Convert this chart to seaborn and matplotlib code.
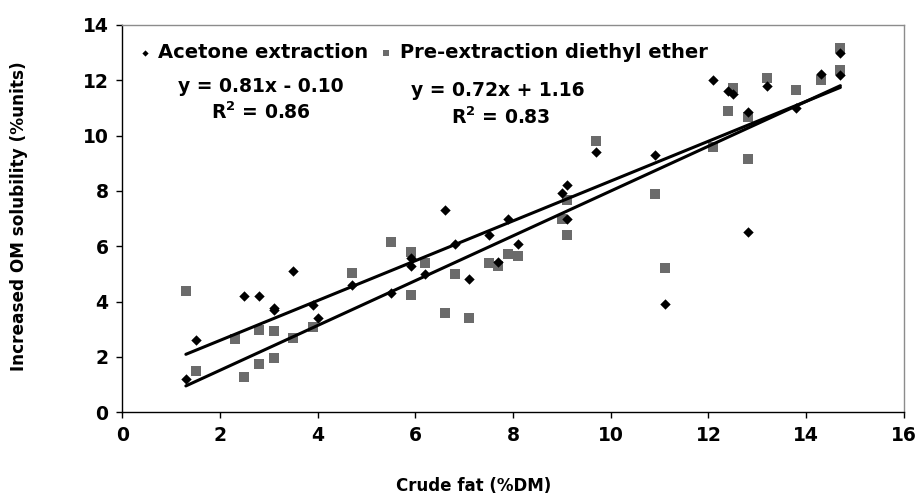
import numpy as np
import pandas as pd
import seaborn as sns
import matplotlib
import matplotlib.pyplot as plt

matplotlib.use('Agg')

# Данные: ацетоновая экстракция (ромбы)
acetone_fat = [1.3, 1.5, 2.5, 2.8, 3.1, 3.1, 3.5, 3.9, 4.0, 4.7, 5.5, 5.9, 5.9,
               6.2, 6.6, 6.8, 7.1, 7.5, 7.7, 7.9, 8.1, 9.0, 9.1, 9.1, 9.7, 10.9,
               11.1, 12.1, 12.4, 12.5, 12.8, 12.8, 13.2, 13.8, 14.3, 14.7, 14.7]
acetone_om = [1.20, 2.61, 4.20, 4.20, 3.78, 3.69, 5.11, 3.89, 3.40, 4.60, 4.31, 5.57, 5.30,
              5.01, 7.30, 6.10, 4.81, 6.40, 5.43, 7.00, 6.10, 7.93, 8.22, 7.00, 9.40, 9.31,
              3.90, 12.01, 11.63, 11.51, 10.85, 6.51, 11.81, 11.00, 12.23, 12.98, 12.19]

# Данные: предварительная экстракция диэтиловым эфиром (квадраты)
ether_fat = [1.3, 1.5, 2.3, 2.5, 2.8, 2.8, 3.1, 3.1, 3.5, 3.9, 4.7, 5.5, 5.9, 5.9,
             6.2, 6.6, 6.8, 7.1, 7.5, 7.7, 7.9, 8.1, 9.0, 9.1, 9.1, 9.7, 10.9, 11.1,
             12.1, 12.4, 12.5, 12.8, 12.8, 13.2, 13.8, 14.3, 14.7, 14.7]
ether_om = [4.40, 1.50, 2.65, 1.29, 2.98, 1.73, 2.94, 1.95, 2.70, 3.07, 5.04, 6.15, 5.81, 4.24,
            5.39, 3.58, 5.01, 3.41, 5.41, 5.29, 5.73, 5.64, 6.99, 7.69, 6.41, 9.80, 7.88, 5.23,
            9.58, 10.88, 11.71, 10.66, 9.15, 12.10, 11.66, 12.00, 13.16, 12.38]

# Линии тренда (коэффициенты из подписей)
trend_x = [1.3, 14.7]
trend1 = (0.81, -0.10)
trend2 = (0.72, 1.16)

sns.set_style('white')
plt.rcParams['font.family'] = ['DejaVu Sans']
plt.rcParams['font.weight'] = 'bold'
plt.rcParams['text.color'] = 'black'
plt.rcParams['xtick.color'] = 'black'
plt.rcParams['ytick.color'] = 'black'
plt.rcParams['axes.labelcolor'] = 'black'

fig = plt.figure(figsize=(9.18, 5.0), dpi=100)
ax = fig.add_axes([0.1333, 0.1754, 0.8513, 0.7746])

sns.scatterplot(x=acetone_fat, y=acetone_om, marker='D', color='black', s=28,
                linewidth=0, label='Acetone extraction', ax=ax, zorder=3)
sns.scatterplot(x=ether_fat, y=ether_om, marker='s', color='#6b6b6b', s=45,
                linewidth=0, label='Pre-extraction diethyl ether', ax=ax, zorder=2)

for slope, icpt in (trend1, trend2):
    tx = np.array(trend_x)
    sns.lineplot(x=tx, y=slope * tx + icpt, color='black', linewidth=2.2, ax=ax, zorder=4)

ax.set_xlim(0, 16)
ax.set_ylim(0, 14)
ax.set_xticks(range(0, 17, 2))
ax.set_yticks(range(0, 15, 2))
ax.tick_params(axis='both', labelsize=13.5, length=4, width=1,
               direction='out', bottom=True, left=True, pad=6)
for lbl in ax.get_xticklabels() + ax.get_yticklabels():
    lbl.set_fontweight('bold')

for side in ('left', 'bottom'):
    ax.spines[side].set_color('black')
    ax.spines[side].set_linewidth(1.0)
for side in ('top', 'right'):
    ax.spines[side].set_color('#8c8c8c')
    ax.spines[side].set_linewidth(1.0)

ax.set_xlabel('Crude fat (%DM)', fontsize=12, fontweight='bold')
ax.set_ylabel('Increased OM solubility (%units)', fontsize=12.2, fontweight='bold')
ax.xaxis.set_label_coords(0.449, -0.167)
ax.yaxis.set_label_coords(-0.121, 0.507)

leg = ax.legend(loc='center left', ncol=2, frameon=False, fontsize=14,
                markerscale=0.6, handlelength=0.8, handletextpad=0.3,
                columnspacing=0.5, bbox_to_anchor=(0.0187, 0.930),
                borderaxespad=0, borderpad=0)
for t in leg.get_texts():
    t.set_fontweight('bold')

eq_style = dict(fontsize=13.5, fontweight='bold', ha='center', va='center')
ax.text(2.84, 11.76, 'y = 0.81x - 0.10', **eq_style)
ax.text(2.84, 10.86, 'R$^\\mathbf{2}$ = 0.86', **eq_style)
ax.text(7.69, 11.65, 'y = 0.72x + 1.16', **eq_style)
ax.text(7.75, 10.67, 'R$^\\mathbf{2}$ = 0.83', **eq_style)

plt.savefig('out.png', dpi=100)
